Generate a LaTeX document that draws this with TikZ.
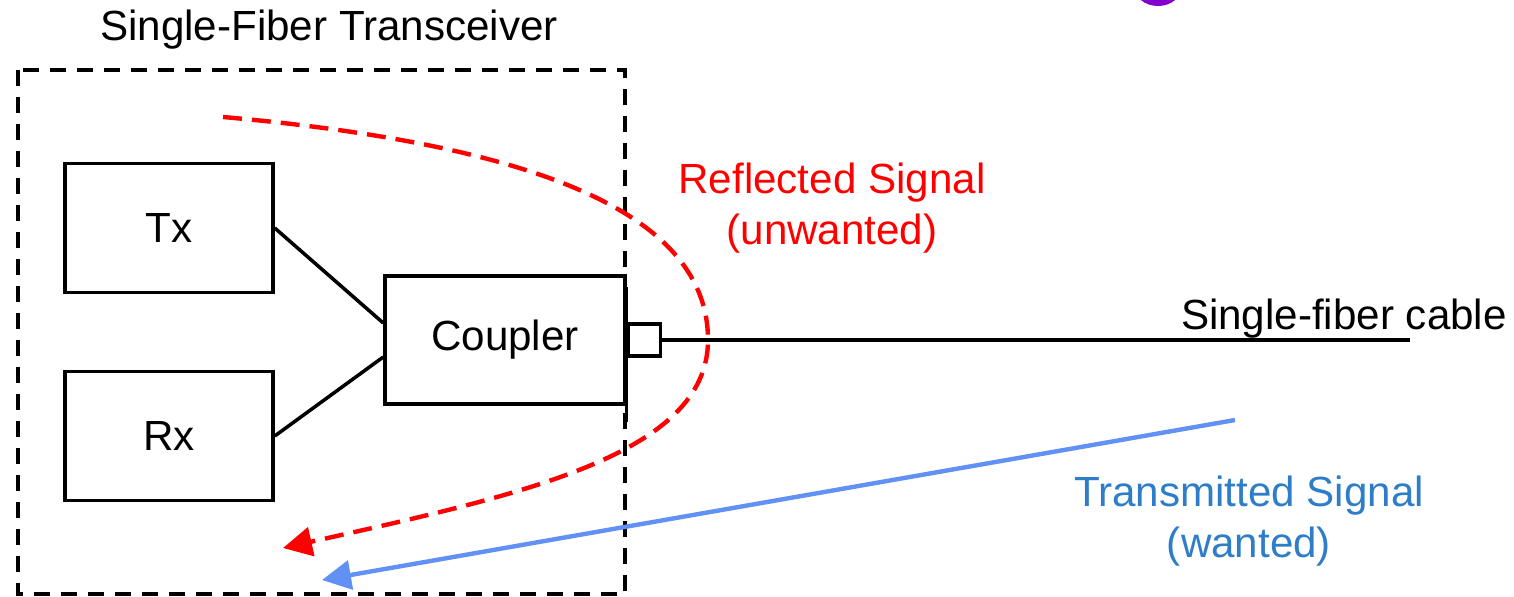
\documentclass[tikz,border=0pt]{standalone}
\usepackage{fontspec}
\setmainfont{Liberation Sans}
\usetikzlibrary{arrows.meta}
\definecolor{sigred}{RGB}{255,0,0}
\definecolor{sigblue}{RGB}{97,145,245}
\definecolor{txtblue}{RGB}{46,125,200}
\definecolor{blobpurple}{RGB}{132,0,204}
\begin{document}
\begin{tikzpicture}[x=0.02cm,y=-0.02cm,font=\fontsize{24}{29.5}\selectfont,
  ln/.style={line width=2pt},
  blk/.style={draw,ln,minimum width=4.16cm,minimum height=2.58cm},
  sigtip/.style={-{Triangle[length=0.58cm,width=0.58cm]}}]
\useasboundingbox (0,0) rectangle (1514,596);
\fill[blobpurple] (1158,-14) ellipse [x radius=24, y radius=20];
% transceiver outline
\draw[ln,dash pattern=on 0.32cm off 0.22cm] (18,70) rectangle (625,594);
\node (title) at (329,30) {Single-Fiber Transceiver};
\node[blk,minimum width=4.8cm,minimum height=2.56cm] (cpl) at (505,340) {Coupler};
\foreach \nm/\lb/\yy/\dy in {tx/Tx/228/0.34,rx/Rx/436/-0.34}{
  \node[blk] (\nm) at (169,\yy) {\lb};
  \draw[ln] (\nm.east) -- ([yshift=\dy cm]cpl.west);
}
\draw[ln] ([yshift=-0.26cm]cpl.north east) -- ([yshift=-0.32cm]cpl.south east);
\node[draw,ln,minimum size=0.64cm,inner sep=0pt,anchor=west] (port) at (cpl.east) {};
\coordinate (cableend) at (1410,340);
\draw[ln] (port) -- (cableend);
\node[anchor=base east] (cablelbl) at (1513,329) {Single-fiber cable};
% reflected path
\coordinate (rstart) at (223,117);
\coordinate (rend) at (283,548);
\draw[sigred,line width=2.5pt,dash pattern=on 0.38cm off 0.2cm,sigtip] (rstart)
  .. controls (540,145) and (708,215) .. (708,340)
  .. controls (708,455) and (520,495) .. (rend);
\node[sigred,align=center] (refl) at (832,208) {Reflected Signal\\(unwanted)};
% transmitted path
\coordinate (bstart) at (1235,420);
\coordinate (bend) at (322,580);
\draw[sigblue,line width=2.5pt,sigtip] (bstart) -- (bend);
\node[txtblue,align=center] (trans) at (1249,521) {Transmitted Signal\\(wanted)};
\end{tikzpicture}
\end{document}
